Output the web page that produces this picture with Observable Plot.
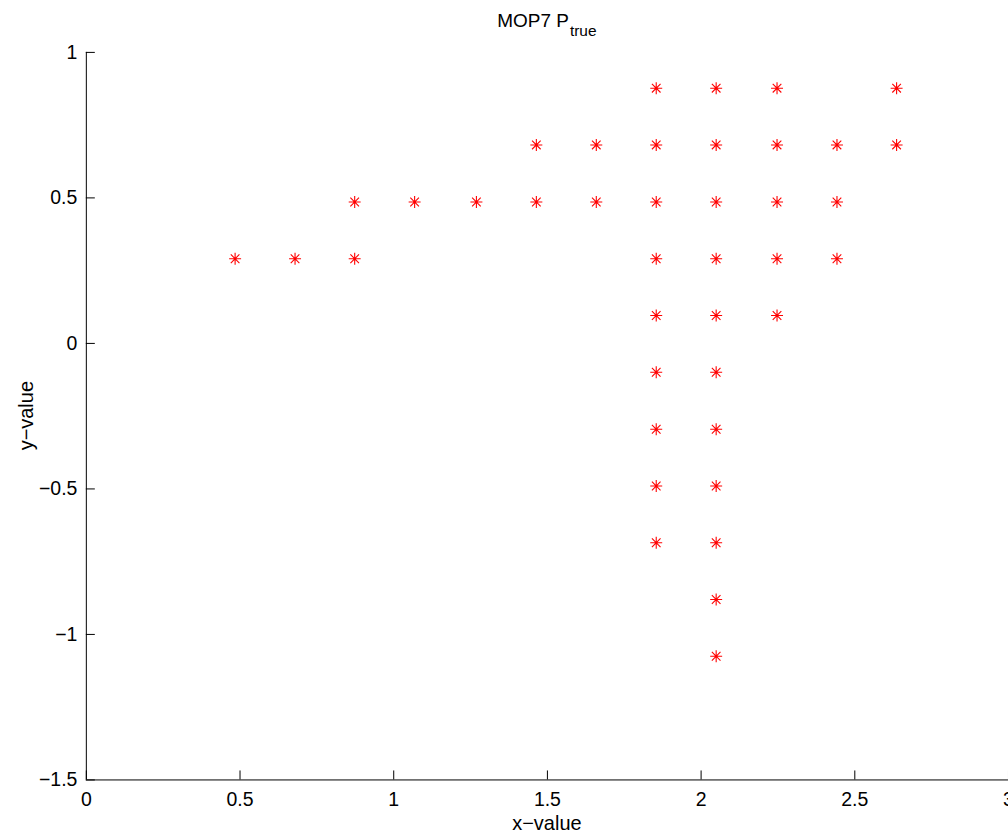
<!DOCTYPE html>
<html><head><meta charset="utf-8">
<script src="https://cdn.jsdelivr.net/npm/d3@7"></script>
<script src="https://cdn.jsdelivr.net/npm/@observablehq/plot@0.6"></script>
<style>html,body{margin:0;padding:0;background:#fff;overflow:hidden;width:1008px;height:838px}</style>
</head><body><div id="chart"></div><script>
// Points
const pointX = [
  1.854, 2.049, 2.247, 2.636,
  1.464, 1.659, 1.854, 2.049, 2.247, 2.442, 2.636,
  0.873, 1.068, 1.269, 1.464, 1.659, 1.854, 2.049, 2.247, 2.442,
  0.484, 0.679, 0.873, 1.854, 2.049, 2.247, 2.442,
  1.854, 2.049, 2.247,
  1.854, 2.049,
  1.854, 2.049,
  1.854, 2.049,
  1.854, 2.049,
  2.049,
  2.049
];
const pointY = [
  0.877, 0.877, 0.877, 0.877,
  0.682, 0.682, 0.682, 0.682, 0.682, 0.682, 0.682,
  0.486, 0.486, 0.486, 0.486, 0.486, 0.486, 0.486, 0.486, 0.486,
  0.291, 0.291, 0.291, 0.291, 0.291, 0.291, 0.291,
  0.096, 0.096, 0.096,
  -0.099, -0.099,
  -0.295, -0.295,
  -0.490, -0.490,
  -0.685, -0.685,
  -0.880,
  -1.075
];
const xTicks = [0, 0.5, 1, 1.5, 2, 2.5, 3];
const yTicks = [-1.5, -1, -0.5, 0, 0.5, 1];
const titleMain = "MOP7 P";
const titleSub = "true";
const xLabel = "x\u2212value";
const yLabel = "y\u2212value";

const points = pointX.map((x, i) => ({x, y: pointY[i]}));

const asterisk = {
  draw(ctx, size) {
    const r = Math.sqrt(size / Math.PI);
    const d = r * 0.72;
    ctx.moveTo(-r, 0); ctx.lineTo(r, 0);
    ctx.moveTo(0, -r); ctx.lineTo(0, r);
    ctx.moveTo(-d, -d); ctx.lineTo(d, d);
    ctx.moveTo(-d, d); ctx.lineTo(d, -d);
  }
};

const font = "'Liberation Sans', Arial, Helvetica, sans-serif";
const W = 1010, H = 838, ML = 86, MR = 0, MT = 52, MB = 57;
const fmt = d => String(d).replace("-", "\u2212");

const chart = Plot.plot({
  width: W, height: H,
  marginLeft: ML, marginRight: MR, marginTop: MT, marginBottom: MB,
  style: {fontFamily: font, fontSize: "19.5px", background: "#fff", color: "#000", overflow: "visible"},
  x: {domain: [0, 3]},
  y: {domain: [-1.5, 1]},
  marks: [
    Plot.axisX(xTicks, {tickSize: -9, tickPadding: 21, label: null, stroke: "#000", tickFormat: fmt}),
    Plot.axisY(yTicks, {tickSize: -9, tickPadding: 18, label: null, stroke: "#000", tickFormat: fmt}),
    Plot.ruleX([0], {stroke: "#000", strokeWidth: 1}),
    Plot.ruleY([-1.5], {stroke: "#000", strokeWidth: 1}),
    Plot.dot(points, {x: "x", y: "y", symbol: asterisk, r: 6, stroke: "#ff0000", strokeWidth: 1.1, fill: "none"})
  ]
});
document.getElementById("chart").appendChild(chart);

const svg = d3.select(chart);
const cx = ML + (W - ML - MR) / 2;
const t = svg.append("text")
  .attr("x", cx).attr("y", 27).attr("text-anchor", "middle")
  .attr("font-family", font).attr("font-size", 19).attr("fill", "#000");
t.append("tspan").text(titleMain);
t.append("tspan").attr("dx", 1).attr("dy", 9).attr("font-size", 15.5).text(titleSub);

svg.append("text")
  .attr("x", cx).attr("y", 832).attr("text-anchor", "middle")
  .attr("font-family", font).attr("font-size", 20).attr("fill", "#000")
  .text(xLabel);
svg.append("text")
  .attr("transform", `translate(33,${MT + (H - MT - MB) / 2}) rotate(-90)`)
  .attr("text-anchor", "middle")
  .attr("font-family", font).attr("font-size", 20).attr("fill", "#000")
  .text(yLabel);
</script></body></html>
